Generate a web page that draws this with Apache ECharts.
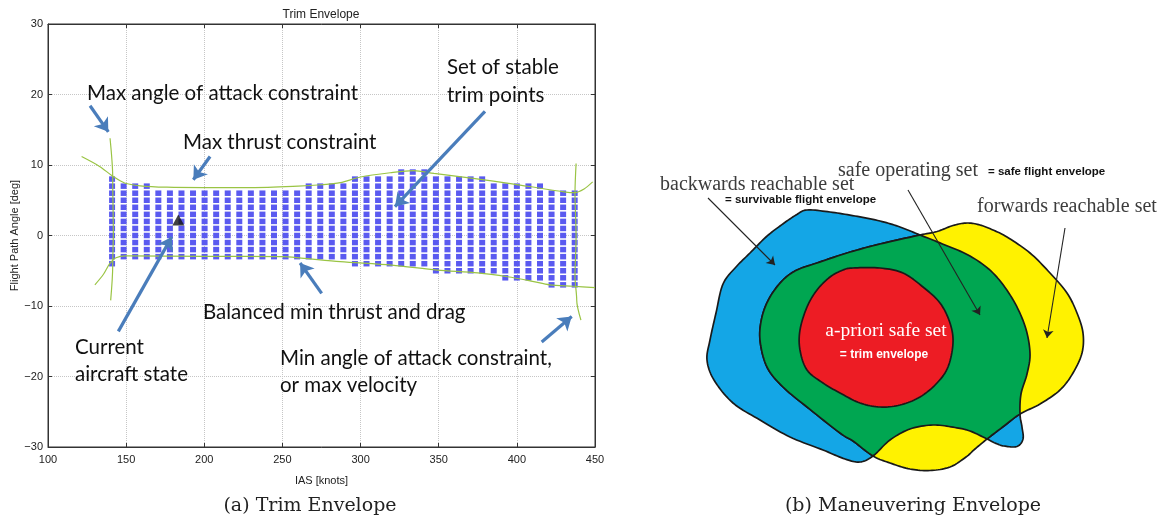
<!DOCTYPE html>
<html><head><meta charset="utf-8">
<script src="https://cdn.jsdelivr.net/npm/echarts/dist/echarts.min.js"></script>
<style>html,body{margin:0;padding:0;background:#fff}#c{width:1166px;height:516px}</style>
</head><body><div id="c"></div><script>
// ---------- (a) Trim envelope data ----------
const xTicks = [100,150,200,250,300,350,400,450];
const yTicks = [-30,-20,-10,0,10,20,30];
const colX = [141,148.4,155.8,163.2,170.6,178,185.4,192.8,200.2,207.6,215,222.4,229.8,237.2,244.6,252,259.4,266.8,274.2,281.6,289,296.4,303.8,311.2,318.6,326,333.4,340.8,348.2,355.6,363,370.4,377.8,385.2,392.6,400,407.4,414.8,422.2,429.6,437];
const colTop = [8,7,7,7,6,6,6,6,6,6,6,6,6,6,6,6,6,7,7,7,7,8,8,8,8,9,9,9,8,8,8,8,8,7,7,7,7,7,6,6,6];
const colBottom = [-4,-3,-3,-3,-3,-3,-3,-3,-3,-3,-3,-3,-3,-3,-3,-3,-3,-3,-3,-3,-3,-4,-4,-4,-4,-4,-4,-4,-5,-5,-5,-5,-5,-5,-6,-6,-6,-6,-7,-7,-7];
const maxThrust = [[121.5,11.2],[133,9.8],[141.5,8.4],[149,7.45],[159,7.05],[176,6.85],[200,6.8],[230,6.8],[260,7.0],[275,7.2],[287,7.5],[300,8.3],[319,8.9],[334,9.2],[347,8.8],[372,8.1],[398,7.3],[415,6.7],[430,6.2],[437,6.07],[443,6.6],[448.5,7.6]];
const minThrust = [[130,-7.0],[135.5,-5.5],[139.5,-4.0],[143.5,-3.15],[150,-2.9],[200,-2.95],[250,-3.0],[262,-3.2],[287,-3.7],[320,-4.2],[349,-4.9],[375,-5.3],[394,-5.85],[410,-6.5],[421,-7.0],[436,-7.2],[450,-7.4]];
const maxAoA = [[139.7,13.8],[141.4,8.3],[141.8,0.3],[141.4,-4.4],[140.1,-9.2]];
const minAoA = [[437.9,10.2],[437.2,6.0],[437.9,-0.2],[437.2,-5.85],[438.3,-9.15],[441,-12]];
const currentState = [[183.4,2.2]];
const leftArrows = [
  [[126.9,18.4],[138.6,14.7]],
  [[203.7,11.2],[193,7.9]],
  [[379.6,17.6],[322,4.1]],
  [[145,-13.6],[179.2,-0.2]],
  [[275.1,-8.2],[261.3,-3.9]],
  [[415.9,-15.1],[435.1,-11.5]]
];

// ---------- (b) Maneuvering envelope outlines (panel units) ----------
const sRight = [[920,235],[945,245],[970,256],[993,273],[1012,298],[1025,326],[1030,353],[1027,374],[1021,394],[1020,414]];
const bLobe = [[1020,414],[1022,427],[1023,439],[1017,446.5],[1004,446],[995,443],[987,439]];
const sBot = [[987,439],[970,431],[955,427.5],[933,425],[910,429],[890,440],[873,456]];
const bOuter = [[873,456],[860,462],[845,459],[823,450],[790,437],[760,420],[733,403],[714,380],[707,360],[710,340],[716,313],[723,284],[736,267],[750,253],[766,237],[780,226],[796,215],[807,210],[830,212],[855,216],[880,221],[900,227],[920,235]];
const yOuter = [[920,235],[937,231.5],[953,225.5],[967,223],[980,225],[993,230],[1007,237],[1030,253],[1050,273],[1067,293],[1077,313],[1083,333],[1082,353],[1073,373],[1060,390],[1040,404],[1020,414]];
const sYG = [[1020,414],[1004,426],[987,439]];
const yLobe = [[987,439],[975,449],[966,457],[950,467],[930,470.5],[910,469],[890,463],[873,456]];
const sLeft = [[873,456],[853,441],[840,433],[807,407],[783,387],[767,367],[760,340],[762,317],[770,297],[783,280],[797,270],[817,263],[847,253],[880,244],[920,235]];
const redSet = [[853,268],[880,268],[903,273],[923,287],[940,303],[950,323],[953,343],[948,367],[937,383],[920,397],[900,405],[880,407],[860,403],[840,393],[823,383],[807,370],[800,350],[800,330],[807,307],[817,290],[830,277],[843,270]];
const rightArrows = [
  [[708,198],[775,265]],
  [[908,190],[980,315]],
  [[1065,228],[1047,338]]
];

// ---------- helpers ----------
function cr(p0,p1,p2,p3,t){
  const t2=t*t,t3=t2*t;
  const f=(a,b,c,d)=>0.5*((2*b)+(-a+c)*t+(2*a-5*b+4*c-d)*t2+(-a+3*b-3*c+d)*t3);
  return [f(p0[0],p1[0],p2[0],p3[0]), f(p0[1],p1[1],p2[1],p3[1])];
}
function smoothLoop(segs){
  const V=[],ranges=[];
  segs.forEach(s=>{const st=V.length;for(let j=0;j<s.length-1;j++)V.push(s[j]);ranges.push([st,s.length-1]);});
  const n=V.length,STEPS=10;
  return segs.map((s,si)=>{
    const [st,cnt]=ranges[si];const pts=[];
    for(let k=0;k<cnt;k++){const i=st+k;
      const p0=V[(i-1+n)%n],p1=V[i%n],p2=V[(i+1)%n],p3=V[(i+2)%n];
      for(let m=0;m<STEPS;m++)pts.push(cr(p0,p1,p2,p3,m/STEPS));}
    pts.push(V[(st+cnt)%n]);return pts;});
}
const blueS = smoothLoop([sRight,bLobe,sBot,bOuter]);
const yellowS = smoothLoop([yOuter,sYG,yLobe,sLeft]);
const redS = smoothLoop([redSet.concat([redSet[0]])]);
const shapes = [
  {pts:[].concat(...blueS), fill:'#14a6e6'},
  {pts:[].concat(...yellowS), fill:'#fff200'},
  {pts:[].concat(blueS[0],yellowS[1],blueS[2],yellowS[3]), fill:'#00a651'},
  {pts:redS[0], fill:'#ed1c24'}
];

// build square grid points from column bounds
const squares=[];
colX.forEach((x,i)=>{for(let v=colBottom[i];v<=colTop[i];v++)squares.push([x,v]);});

const axisFont={fontFamily:'Liberation Sans',fontSize:11,color:'#222'};
const minus=v=>v<0?'\u2212'+Math.abs(v):String(v);
const boxLine={show:true,onZero:false,lineStyle:{color:'#333'}};

const chart=echarts.init(document.getElementById('c'),null,{renderer:'canvas'});
const lt=(text,x,y,font,fill,align)=>({type:'text',x,y,z:100,style:{text,font,fill:fill||'#111',verticalAlign:'middle',align:align||'left'}});
const annFont='20.5px Lato';
const serifR='20px "Liberation Serif"';
chart.setOption({
  animation:false,
  backgroundColor:'#fff',
  grid:[
    {left:48,top:24,width:547,height:423,show:true,borderColor:'#333',borderWidth:1,outerBoundsMode:'none',containLabel:false},
    {left:640,top:0,width:526,height:516,show:false,outerBoundsMode:'none',containLabel:false}
  ],
  xAxis:[
    {type:'value',gridIndex:0,min:100,max:450,interval:50,position:'bottom',
     axisLine:boxLine,axisTick:{inside:true,length:4,lineStyle:{color:'#333'}},
     axisLabel:{...axisFont,margin:7,showMinLabel:true,showMaxLabel:true},
     splitLine:{show:true,lineStyle:{type:'dotted',color:'#c6c6c6',width:1}},
     name:'IAS [knots]',nameLocation:'middle',nameGap:28,nameTextStyle:axisFont},
    {type:'value',gridIndex:0,min:100,max:450,interval:50,position:'top',
     axisLine:boxLine,axisTick:{inside:true,length:4,lineStyle:{color:'#333'}},
     axisLabel:{show:false},splitLine:{show:false}},
    {type:'value',gridIndex:1,min:640,max:1166,show:false}
  ],
  yAxis:[
    {type:'value',gridIndex:0,min:-30,max:30,interval:10,position:'left',
     axisLine:boxLine,axisTick:{inside:true,length:4,lineStyle:{color:'#333'}},
     axisLabel:{...axisFont,margin:5,formatter:minus,showMinLabel:true,showMaxLabel:true},
     splitLine:{show:true,lineStyle:{type:'dotted',color:'#c6c6c6',width:1}},
     name:'Flight Path Angle [deg]',nameLocation:'middle',nameGap:27,nameRotate:90,nameTextStyle:axisFont},
    {type:'value',gridIndex:0,min:-30,max:30,interval:10,position:'right',
     axisLine:boxLine,axisTick:{inside:true,length:4,lineStyle:{color:'#333'}},
     axisLabel:{show:false},splitLine:{show:false}},
    {type:'value',gridIndex:1,min:0,max:516,inverse:true,show:false}
  ],
  series:[
    {type:'scatter',xAxisIndex:0,yAxisIndex:0,data:squares,symbol:'rect',symbolSize:[6,5.5],
     itemStyle:{color:'#5a5af0',opacity:1},z:2,silent:true},
    {type:'line',xAxisIndex:0,yAxisIndex:0,data:maxThrust,smooth:0.3,symbol:'none',lineStyle:{color:'#9ac444',width:1.2},z:3},
    {type:'line',xAxisIndex:0,yAxisIndex:0,data:minThrust,smooth:0.3,symbol:'none',lineStyle:{color:'#9ac444',width:1.2},z:3},
    {type:'line',xAxisIndex:0,yAxisIndex:0,data:maxAoA,smooth:0.3,smoothMonotone:'y',symbol:'none',lineStyle:{color:'#9ac444',width:1.2},z:3},
    {type:'line',xAxisIndex:0,yAxisIndex:0,data:minAoA,smooth:0.3,smoothMonotone:'y',symbol:'none',lineStyle:{color:'#9ac444',width:1.2},z:3},
    {type:'scatter',xAxisIndex:0,yAxisIndex:0,data:currentState,symbol:'triangle',symbolSize:[12,11],itemStyle:{color:'#111'},z:4},
    {type:'lines',coordinateSystem:'cartesian2d',xAxisIndex:0,yAxisIndex:0,
     data:leftArrows.map(c=>({coords:c})),symbol:['none','arrow'],symbolSize:13,
     lineStyle:{color:'#4a7dbb',width:3.2,opacity:1,curveness:0},z:5},
    {type:'custom',coordinateSystem:'cartesian2d',xAxisIndex:2,yAxisIndex:2,clip:false,
     data:shapes.map(()=>[700,100]),
     renderItem:(params,api)=>{const s=shapes[params.dataIndex];
       return {type:'polygon',shape:{points:s.pts.map(p=>api.coord(p))},
         style:{fill:s.fill,stroke:'#1a1a1a',lineWidth:1.7,lineJoin:'round'}};},z:2},
    {type:'lines',coordinateSystem:'cartesian2d',xAxisIndex:2,yAxisIndex:2,
     data:rightArrows.map(c=>({coords:c})),symbol:['none','arrow'],symbolSize:8,
     lineStyle:{color:'#222',width:1.1,opacity:1},z:6}
  ],
  graphic:[
    lt('Trim Envelope',321,15,'12px "Liberation Sans"','#222','center'),
    lt('Max angle of attack constraint',87,93,annFont),
    lt('Max thrust constraint',183,142,annFont),
    lt('Set of stable',447,67,annFont),
    lt('trim points',447,95,annFont),
    lt('Current',75,347,annFont),
    lt('aircraft state',75,374,annFont),
    lt('Balanced min thrust and drag',203,312,annFont),
    lt('Min angle of attack constraint,',280,358,annFont),
    lt('or max velocity',280,385,annFont),
    lt('(a) Trim Envelope',310,506,'19px "DejaVu Serif"','#222','center'),
    lt('(b) Maneuvering Envelope',913,506,'19px "DejaVu Serif"','#222','center'),
    lt('backwards reachable set',660,185,serifR,'#3c3c3c'),
    lt('= survivable flight envelope',725,199.5,'bold 11.5px "Liberation Sans"','#111'),
    lt('safe operating set',838,171,serifR,'#3c3c3c'),
    lt('= safe flight envelope',988,172,'bold 11.5px "Liberation Sans"','#111'),
    lt('forwards reachable set',977,206.5,serifR,'#3c3c3c'),
    lt('a-priori safe set',886,331,'19.5px "Liberation Serif"','#fff','center'),
    lt('= trim envelope',884,355,'bold 12px "Liberation Sans"','#fff','center')
  ]
});
</script></body></html>
